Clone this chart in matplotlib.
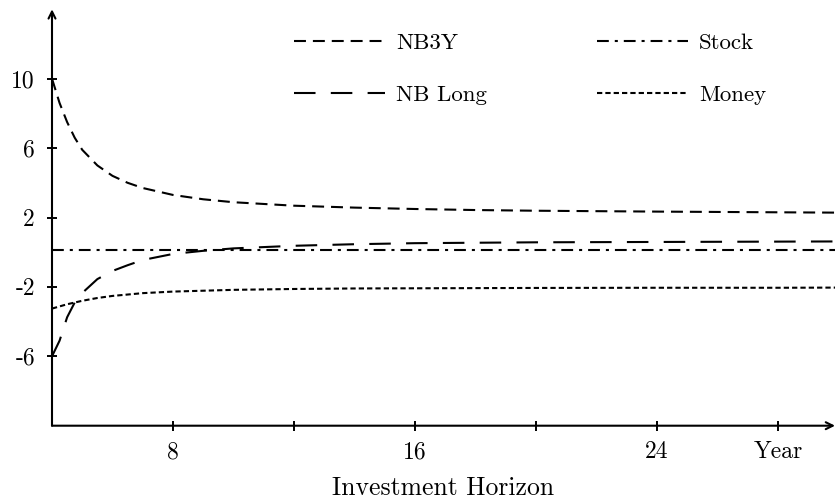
import matplotlib
matplotlib.use('Agg')
import matplotlib.pyplot as plt

plt.rcParams['font.family'] = 'cmr10'
plt.rcParams['mathtext.fontset'] = 'cm'
plt.rcParams['axes.unicode_minus'] = False
plt.rcParams['axes.formatter.use_mathtext'] = True
plt.rcParams['lines.scale_dashes'] = False

# values (horizon in years)
nb3y_x = [4, 4.25, 4.5, 4.75, 5, 5.5, 6, 6.5, 7, 8, 9, 10, 12, 14, 16, 18, 20, 24, 28, 30]
nb3y_y = [10.0, 8.6, 7.5, 6.6, 5.9, 5.0, 4.4, 4.0, 3.7, 3.3, 3.05, 2.88, 2.68, 2.57, 2.49,
          2.43, 2.39, 2.34, 2.30, 2.28]

nblong_x = [4, 4.25, 4.5, 4.75, 5, 5.5, 6, 6.5, 7, 8, 9, 10, 12, 14, 16, 20, 24, 28, 30]
nblong_y = [-6.0, -5.1, -3.75, -2.9, -2.35, -1.55, -1.08, -0.75, -0.45, -0.1, 0.08, 0.22,
            0.37, 0.46, 0.52, 0.57, 0.59, 0.61, 0.62]

stock_x = [4, 30]
stock_y = [0.1, 0.1]

money_x = [4, 4.5, 5, 5.5, 6, 7, 8, 10, 12, 14, 16, 20, 24, 28, 30]
money_y = [-3.25, -3.0, -2.8, -2.64, -2.52, -2.36, -2.27, -2.17, -2.12, -2.09, -2.08,
           -2.06, -2.05, -2.05, -2.04]

xticks = [8, 12, 16, 20, 24, 28]
xtick_labels = ['8', '', '16', '', '24', 'Year']
yticks = [-6, -2, 2, 6, 10]
ytick_labels = ['-6', '-2', '2', '6', '10']

fig = plt.figure(figsize=(8.35, 5.01), dpi=100)
ax = fig.add_axes([52 / 835, 1 - 425.7 / 501, 783 / 835, 416.4 / 501])

lw = 1.5
l1, = ax.plot(nb3y_x, nb3y_y, color='black', lw=lw, dashes=(8.6, 5.0), label='NB3Y')
l2, = ax.plot(nblong_x, nblong_y, color='black', lw=lw, dashes=(15.5, 11), label='NB Long')
l3, = ax.plot(stock_x, stock_y, color='black', lw=lw, dashes=(8.5, 4.3, 2.2, 4.3), label='Stock')
l4, = ax.plot(money_x, money_y, color='black', lw=lw, dashes=(3.8, 2.2), label='Money')

ax.set_xlim(4, 4 + 783 / 30.25)
ax.set_ylim(-10, 14)

for s in ax.spines.values():
    s.set_visible(False)

# axes drawn as arrows
arrow = dict(arrowstyle='->,head_length=0.5,head_width=0.25', lw=1.5, color='black',
             shrinkA=0, shrinkB=0)
ax.annotate('', xy=(1, 0), xytext=(0, 0), xycoords='axes fraction', arrowprops=arrow)
ax.annotate('', xy=(0, 1), xytext=(0, 0), xycoords='axes fraction', arrowprops=arrow)

ax.set_xticks(xticks)
ax.set_xticklabels(xtick_labels)
ax.set_yticks(yticks)
ax.set_yticklabels(ytick_labels)
ax.tick_params(direction='inout', length=6.5, width=1.4, labelsize=17, color='black')
ax.tick_params(axis='x', pad=8)
ax.tick_params(axis='y', pad=9)

ax.set_xlabel('Investment Horizon', fontsize=18.5, labelpad=9)

leg = ax.legend(handles=[l1, l2, l3, l4], ncol=2, frameon=False, fontsize=16.5,
                loc='upper left', bbox_to_anchor=(294 / 835, 1 - 33 / 501),
                bbox_transform=fig.transFigure, borderaxespad=0, borderpad=0,
                handlelength=3.95, handletextpad=0.5, columnspacing=4.8,
                labelspacing=1.4)

fig.savefig('out.png', dpi=100)
